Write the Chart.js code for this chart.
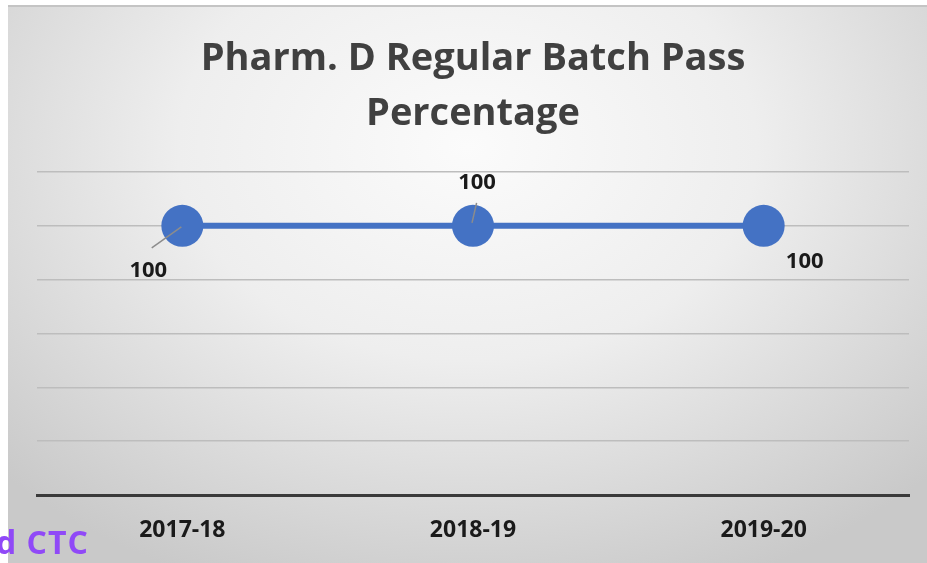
<!DOCTYPE html>
<html>
<head>
<meta charset="utf-8">
<script src="https://cdn.jsdelivr.net/npm/chart.js@4"></script>
<style>
  html, body { margin: 0; padding: 0; background: #fff; }
  #wrap { position: relative; width: 927px; height: 563px; overflow: hidden; }
  #bg {
    position: absolute; left: 8px; top: 5px; width: 919px; height: 558px;
    border-top: 2px solid #c4c4c4;
    background: radial-gradient(ellipse 70% 85% at 50% 25%, #fbfbfb 0%, #eeeeee 45%, #d3d3d3 85%, #c9c9c9 100%);
  }
  #chart { position: absolute; left: 0; top: 0; }
  #stamp {
    position: absolute; left: -4px; top: 520px;
    font: bold 32px "Open Sans", sans-serif; color: #9049f7; letter-spacing: 1px;
  }
</style>
</head>
<body>
<div id="wrap">
  <div id="bg"></div>
  <canvas id="chart" width="927" height="563"></canvas>
  <div id="stamp">d CTC</div>
</div>
<script>
// chart data
const years = ['2017-18', '2018-19', '2019-20'];
const passPercent = [100, 100, 100];
const yTicks = [0, 20, 40, 60, 80, 100, 120];

// label placement per point (offset from point, leader line on/off)
const labelOffsets = [
  { dx: -34, dy: 45, leader: true },
  { dx: 4, dy: -43, leader: true },
  { dx: 41, dy: 36, leader: false },
];

// Simple data label plugin with leader lines
const pointLabels = {
  id: 'pointLabels',
  afterDatasetsDraw(chart) {
    const ctx = chart.ctx;
    const meta = chart.getDatasetMeta(0);
    ctx.save();
    meta.data.forEach((pt, i) => {
      const o = labelOffsets[i];
      const lx = pt.x + o.dx;
      const ly = pt.y + o.dy;
      if (o.leader) {
        ctx.strokeStyle = '#8c8c8c';
        ctx.lineWidth = 1.5;
        ctx.beginPath();
        ctx.moveTo(pt.x - 1, pt.y + (o.dy > 0 ? 1 : -3));
        ctx.lineTo(pt.x + o.dx * 0.9, pt.y + (o.dy > 0 ? o.dy - 23 : o.dy + 20));
        ctx.stroke();
      }
      ctx.fillStyle = '#1a1a1a';
      ctx.font = 'bold 22px "Open Sans"';
      ctx.textAlign = 'center';
      ctx.textBaseline = 'middle';
      ctx.fillText(String(chart.data.datasets[0].data[i]), lx, ly);
    });
    ctx.restore();
  }
};

new Chart(document.getElementById('chart'), {
  type: 'line',
  data: {
    labels: years,
    datasets: [{
      data: passPercent,
      borderColor: '#4472c4',
      backgroundColor: '#4472c4',
      borderWidth: 6,
      pointRadius: 21,
      pointBorderWidth: 0,
      pointBackgroundColor: '#4472c4',
      tension: 0,
    }],
  },
  options: {
    responsive: false,
    animation: false,
    events: [],
    layout: { autoPadding: false, padding: { left: 37, right: 18, top: 31, bottom: 0 } },
    plugins: {
      legend: { display: false },
      tooltip: { enabled: false },
      title: {
        display: true,
        text: ['Pharm. D Regular Batch Pass', 'Percentage'],
        color: '#404040',
        font: { family: 'Open Sans', size: 38, weight: 'bold', lineHeight: 1.46 },
        padding: { top: 0, bottom: 30 },
      },
    },
    scales: {
      x: {
        offset: true,
        grid: { display: false },
        border: { display: true, color: '#3a3a3a', width: 3 },
        ticks: { color: '#1a1a1a', font: { family: 'Open Sans', size: 23, weight: 'bold' }, padding: 14 },
        afterFit(scale) { scale.height = 68; },
      },
      y: {
        min: yTicks[0],
        max: yTicks[yTicks.length - 1],
        afterBuildTicks(scale) { scale.ticks = yTicks.map(v => ({ value: v })); },
        afterFit(scale) { scale.width = 0; },
        ticks: { display: false },
        border: { display: false },
        grid: {
          drawTicks: false,
          lineWidth: 1.5,
          color: (c) => (c.tick && c.tick.value === 0 ? 'transparent' : '#bdbdbd'),
        },
      },
    },
  },
  plugins: [pointLabels],
});
</script>
</body>
</html>
